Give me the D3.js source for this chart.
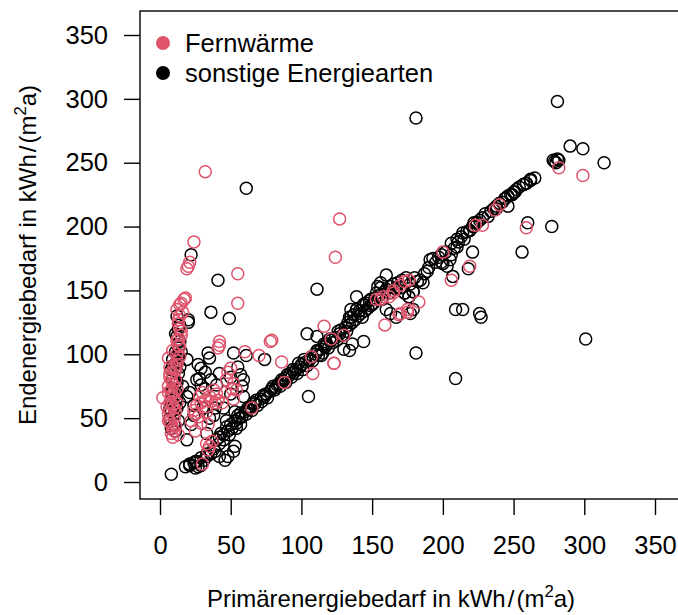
<!DOCTYPE html>
<html><head><meta charset="utf-8">
<script src="https://cdn.jsdelivr.net/npm/d3@7"></script>
<style>body{margin:0;background:#fff}svg{display:block}text{font-family:"Liberation Sans",Arial,sans-serif}</style>
</head><body>
<svg id="c" width="678" height="615"></svg>
<script>
const xTicks = [0,50,100,150,200,250,300,350];
const yTicks = [0,50,100,150,200,250,300,350];
const seriesNames = ["Fernwärme","sonstige Energiearten"];
const seriesColors = ["#DF536B","#000000"];
const xTitle = "Primärenergiebedarf in kWh";
const yTitle = "Endenergiebedarf in kWh";

// sonstige Energiearten (black)
const sonstige = [
[181,285],[281,298],[61,230],[290,263],[299,261],[314,250],[279,251],[281,253],[282,252],[280,250],[278,252],
[262,237],[259,234],[257,233],[251,227],[249,225],[244,222],[240,218],[238,214],[246,216],[260,203],[277,200],[256,180],
[224,203],[222,200],[219,197],[214,195],[210,190],[206,187],[221,180],[218,167],[207,161],[199,172],[139,145],[135,135],
[209,135],[214,135],[226,132],[227,129],[301,112],[181,101],[209,81],[134,103],[144,110],[111,151],
[22,178],[41,158],[36,133],[49,128],[20,127],
[20,125],[14,123],[13,120],[11,116],[12,114],[14,110],[11,102],[12,99],[9,96],[19,96],[11,88],[13,85],[9,81],[9,73],[12,69],[8,64],[13,48],[19,33],
[8,55],[12,58],[10,45],[7,50],[11,77],[9,91],[13,105],[12,130],[8,42],[10,60],[12,66],[9,70],[11,92],[14,90],[12,78],[8,88],[13,98],[15,102],[10,53],[7,58],[16,75],[14,62],[11,40],
[34,101],[35,97],[52,101],[74,96],[104,116],[111,114],[105,67],[26,80],[29,76],[32,73],[19,67],[39,58],[38,52],[35,50],[22,45],[24,52],
[29,89],[28,81],[50,82],[57,84],[59,80],[50,69],[59,67],[40,76],[36,80],[61,99],
[24,60],[30,58],[42,85],[45,58],[55,90],[27,92],[32,86],[21,70],[47,48],[53,55],[58,75],[33,38],
[8,6],[18,12],[21,13],[24,15],[26,16],[27,12],[29,13],[31,17],[33,20],[25,11],[42,20],[46,17],[48,20],[53,28],[52,24],
[21,14],[25,16],[29,19],[33,22],[38,26],[42,30],[45,33],[49,37],[54,42],[57,45],[36,22],[39,24],
[40,33],[42,35],[43,38],[45,37],[47,43],[48,40],[50,45],[51,42],[53,48],[54,46],[56,50],[57,54],[58,51],[60,55],[61,53],[63,57],[64,59],[65,56],[67,61],[68,64],[69,60],[71,65],[72,63],[74,67],[75,69],[76,66],[78,71],[80,75],[81,72],[82,74],[84,77],[85,75],[87,79],[88,81],[89,78],[91,83],[92,85],[93,82],[95,86],[96,88],[97,85],[99,90],[100,92],[101,88],[103,94],[104,91],[106,96],[107,98],[108,95],[110,100],[111,102],[112,99],[114,104],[115,101],[117,106],[118,108],[119,105],[121,111],[122,109],[124,113],[125,111],[127,116],[128,119],[129,115],[131,121],[132,118],[134,123],[135,129],[136,125],[138,127],[139,135],[140,130],[142,132],[143,129],[144,139],[145,134],[147,136],[148,142],[149,138],[151,140],[152,144],[153,148],[155,146],[156,152],[157,143],[159,149],[160,151],[162,148],[163,153],[165,155],[167,151],[168,156],[170,152],[171,158],[173,148],[174,160],[176,145],[177,155],[179,149],[180,160],[182,157],[184,158],[186,156],[187,163],[189,165],[190,168],[191,174],[193,175],[195,172],[197,176],[199,178],[200,171],[202,180],[203,169],[205,174],[206,178],[208,183],[210,184],[211,188],[213,192],[215,190],[217,196],[219,197],[221,200],[222,203],[224,203],[226,205],[228,207],[230,210],[232,208],[234,212],[236,214],[238,216],[240,218],[242,219],[244,222],[246,224],[248,225],[250,227],[252,229],[254,231],[257,233],[259,234],[262,236],[265,238],
[160,162],[156,156],[154,153],[149,143],[144,139],[139,135],[134,129],[173,148],[176,145],[179,149],[167,152],[179,135],[177,132],[167,129],[163,132],[160,135],[130,104],[136,108],[111,103],[114,99],
[120,112],[116,108],[126,118],[133,125],[137,131],[141,134],[146,140],[150,139],[98,93],[94,88],[102,96],[86,80],[90,84],[83,76],[79,73],[73,68],[66,62],[62,58],[55,52]
];

// Fernwärme (red)
const fernwaerme = [
[32,243],[24,188],[21,172],[20,169],[19,167],[55,163],[55,140],[17,143],[15,140],[18,144],[14,139],[13,127],
[127,206],[124,176],[282,246],[299,240],[240,217],[259,199],[223,201],[219,169],[206,158],[183,141],[175,135],[170,132],
[159,123],[169,131],[175,133],[123,93],[116,122],[123,93],[108,85],[86,94],[78,110],[79,111],[60,102],[42,110],[42,107],[41,105],[70,99],
[13,124],[14,120],[12,111],[13,107],[14,106],[9,103],[6,97],[7,90],[7,82],[8,80],[9,77],[2,66],[5,59],[7,56],[6,53],[9,42],[8,38],[13,37],
[10,70],[8,68],[12,62],[6,75],[11,88],[9,85],[12,95],[10,58],[7,47],[11,44],[14,130],[12,100],[15,118],
[6,70],[8,72],[10,66],[12,73],[7,62],[9,60],[11,55],[6,48],[8,45],[10,40],[12,92],[10,90],[14,98],[13,112],[15,115],[12,135],[16,133],[11,80],[7,85],[10,50],[9,35],
[28,67],[32,64],[29,62],[33,59],[36,63],[35,67],[24,56],[25,53],[27,51],[29,46],[50,89],[48,86],[52,77],[51,73],[54,72],[40,69],[41,64],[39,62],
[26,60],[30,70],[33,55],[44,62],[46,70],[38,72],[22,48],[34,45],[52,65],[47,80],[25,40],
[33,30],[35,28],[37,32],[34,25],[30,14],
[176,158],[173,157],[170,154],[165,150],[158,145],[153,143],[156,143],[162,145],[165,148],[121,112],[107,98],
[65,58],[88,78],[130,115],[200,180],[228,201],[237,213]
];

const FS = 25.5, TFS = 24;
const svg = d3.select("#c");
const x = d3.scaleLinear().domain([0,350]).range([160,655]);
const y = d3.scaleLinear().domain([0,350]).range([482,35]);
const boxL = 140, boxT = 11, boxB = 499, boxR = 682;

// box
svg.append("rect").attr("x",boxL).attr("y",boxT).attr("width",boxR-boxL).attr("height",boxB-boxT)
  .attr("fill","none").attr("stroke","#000").attr("stroke-width",1.4);

// points
const g = svg.append("g");
g.selectAll("circle.s").data(sonstige).join("circle").attr("class","s")
  .attr("cx",d=>x(d[0])).attr("cy",d=>y(d[1])).attr("r",6)
  .attr("fill","none").attr("stroke",seriesColors[1]).attr("stroke-width",1.5);
g.selectAll("circle.f").data(fernwaerme).join("circle").attr("class","f")
  .attr("cx",d=>x(d[0])).attr("cy",d=>y(d[1])).attr("r",6)
  .attr("fill","none").attr("stroke",seriesColors[0]).attr("stroke-width",1.5);

// axes
const xAxis = d3.axisBottom(x).tickValues(xTicks).tickSize(16).tickPadding(0).tickFormat(d3.format("d"));
const xa = svg.append("g").attr("transform",`translate(0,${boxB})`).call(xAxis);
xa.select(".domain").remove();
xa.selectAll("line").attr("stroke","#000").attr("stroke-width",1.4);
xa.selectAll("text").attr("font-size",FS).attr("fill","#000").attr("y",55).attr("dy",null)
  .style("font-family",'"Liberation Sans",Arial,sans-serif');

const yAxis = d3.axisLeft(y).tickValues(yTicks).tickSize(16).tickPadding(16).tickFormat(d3.format("d"));
const ya = svg.append("g").attr("transform",`translate(${boxL},0)`).call(yAxis);
ya.select(".domain").remove();
ya.selectAll("line").attr("stroke","#000").attr("stroke-width",1.4);
ya.selectAll("text").attr("font-size",FS).attr("fill","#000").style("font-family",'"Liberation Sans",Arial,sans-serif');

// titles
function unitTitle(sel, base){
  sel.append("tspan").text(base);
  sel.append("tspan").text("/").attr("dx",2);
  sel.append("tspan").text("(m").attr("dx",2);
  sel.append("tspan").text("2").attr("font-size",TFS*0.7).attr("dy",-10);
  sel.append("tspan").text("a)").attr("dy",10);
}
const xt = svg.append("text").attr("x",391).attr("y",607).attr("text-anchor","middle").attr("font-size",TFS);
unitTitle(xt, xTitle);
const yt = svg.append("text").attr("transform","translate(36,255) rotate(-90)").attr("text-anchor","middle").attr("font-size",TFS);
unitTitle(yt, yTitle);

// legend
const lg = svg.append("g");
seriesNames.forEach((n,i)=>{
  lg.append("circle").attr("cx",163).attr("cy",43+i*30).attr("r",7).attr("fill",seriesColors[i]);
  lg.append("text").attr("x",185).attr("y",43+i*30).attr("dy","0.35em").attr("font-size",FS).text(n);
});
</script>
</body></html>
